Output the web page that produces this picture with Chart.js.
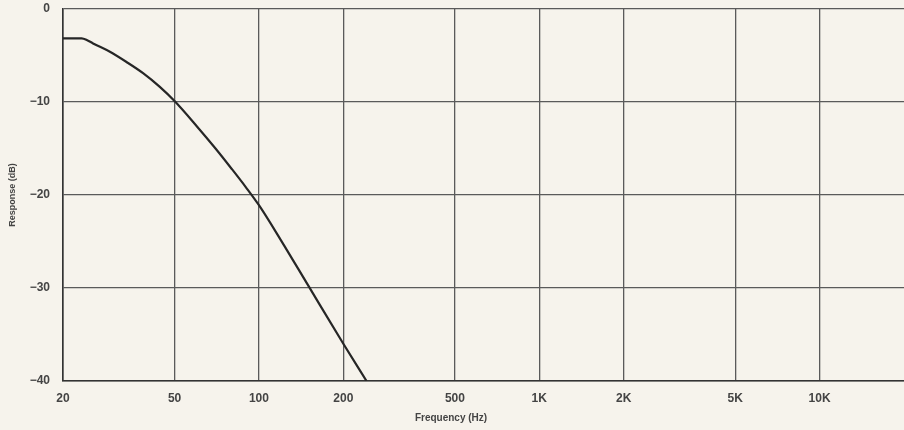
<!DOCTYPE html>
<html>
<head>
<meta charset="utf-8">
<script src="https://cdn.jsdelivr.net/npm/chart.js@4"></script>
<style>
  html, body { margin: 0; padding: 0; background: #f6f3ec; }
  #wrap { width: 904px; height: 430px; }
</style>
</head>
<body>
<div id="wrap"><canvas id="response-chart" width="904" height="430"></canvas></div>
<script>
// Frequency response
const freqs = [20, 23.3, 24.4, 25.6, 29.4, 33.7, 38.6, 44.2, 50, 60, 70, 80, 90, 100, 120, 150, 200, 242];
const responseDb = [-3.15, -3.15, -3.35, -3.7, -4.6, -5.7, -6.9, -8.35, -9.9, -12.6, -15.0, -17.2, -19.2, -21.1, -24.9, -29.75, -36.0, -40];

// Axis ticks
const xTicks = [20, 50, 100, 200, 500, 1000, 2000, 5000, 10000, 20000];
const xTickLabels = ['20', '50', '100', '200', '500', '1K', '2K', '5K', '10K', ''];
const yTicks = [0, -10, -20, -30, -40];

const inkColor = '#444';
const gridColor = '#5a5a5a';
const fontFamily = '"Liberation Sans", Arial, sans-serif';

// Centered x title (in the source it sits at the middle of the page, not the plot)
const pageTitle = {
    id: 'pageTitle',
    afterDraw(chart) {
        const ctx = chart.ctx;
        ctx.save();
        ctx.font = 'bold 10px ' + fontFamily;
        ctx.fillStyle = inkColor;
        ctx.textAlign = 'center';
        ctx.textBaseline = 'middle';
        ctx.fillText('Frequency (Hz)', 451, 418);
        ctx.restore();
    }
};

const ctx = document.getElementById('response-chart');
new Chart(ctx, {
    type: 'line',
    data: {
        datasets: [{
            label: 'Response',
            data: freqs.map((f, i) => ({ x: f, y: responseDb[i] })),
            borderColor: '#262626',
            borderWidth: 2.2,
            pointRadius: 0,
            fill: false,
            cubicInterpolationMode: 'monotone'
        }]
    },
    plugins: [pageTitle],
    options: {
        responsive: false,
        animation: false,
        layout: {
            autoPadding: false,
            padding: { top: 9, right: 0, left: 0, bottom: 0 }
        },
        plugins: {
            legend: { display: false },
            tooltip: { enabled: false }
        },
        scales: {
            x: {
                type: 'logarithmic',
                min: 20,
                max: 20000,
                afterBuildTicks: scale => {
                    scale.ticks = xTicks.map(v => ({ value: v }));
                },
                afterFit: scale => {
                    scale.height = 49;
                    scale.paddingLeft = 0;
                    scale.paddingRight = 0;
                },
                ticks: {
                    autoSkip: false,
                    maxRotation: 0,
                    padding: 10,
                    color: inkColor,
                    font: { family: fontFamily, size: 12, weight: 'bold' },
                    callback: (value) => {
                        const i = xTicks.indexOf(value);
                        return i >= 0 ? xTickLabels[i] : '';
                    }
                },
                grid: {
                    drawTicks: false,
                    lineWidth: 1.3,
                    color: c => (c.tick && c.tick.value === 20000) ? 'rgba(0,0,0,0)' : gridColor
                },
                border: { display: true, color: '#333', width: 1.6 }
            },
            y: {
                min: -40,
                max: 0,
                afterBuildTicks: scale => {
                    scale.ticks = yTicks.map(v => ({ value: v }));
                },
                afterFit: scale => {
                    scale.width = 63;
                    scale.paddingTop = 0;
                    scale.paddingBottom = 0;
                },
                ticks: {
                    padding: 13,
                    color: inkColor,
                    font: { family: fontFamily, size: 12, weight: 'bold' },
                    callback: v => v === 0 ? '0' : '\u2212' + Math.abs(v)
                },
                title: {
                    display: true,
                    text: 'Response (dB)',
                    color: inkColor,
                    padding: { top: 7, bottom: 0 },
                    font: { family: fontFamily, size: 9, weight: 'bold' }
                },
                grid: {
                    drawTicks: false,
                    lineWidth: 1.3,
                    color: gridColor
                },
                border: { display: true, color: '#333', width: 1.6 }
            }
        }
    }
});
</script>
</body>
</html>
